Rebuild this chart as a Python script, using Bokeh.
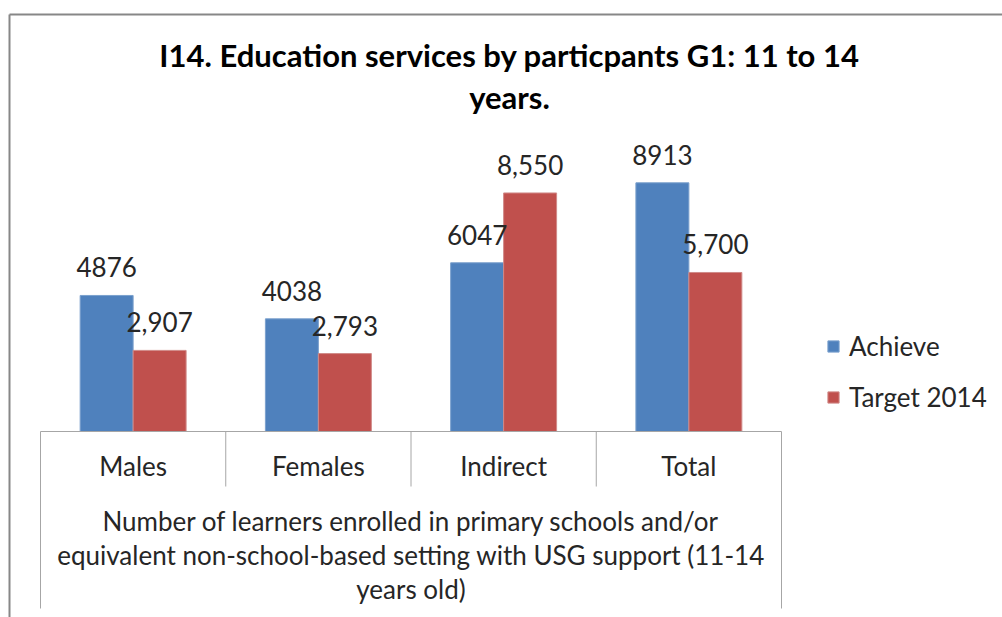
from bokeh.plotting import figure
from bokeh.models import Range1d, ColumnDataSource, Legend, LegendItem
from bokeh.transform import dodge
from bokeh.core.properties import value
from bokeh.embed import file_html
from bokeh.resources import INLINE

# ---------------- data ----------------
title_lines = ["I14. Education services by particpants G1: 11 to 14", "years."]
categories = ["Males", "Females", "Indirect", "Total"]
achieve = [4876, 4038, 6047, 8913]
target = [2907, 2793, 8550, 5700]
achieve_labels = ["4876", "4038", "6047", "8913"]
target_labels = ["2,907", "2,793", "8,550", "5,700"]
series_names = ["Achieve", "Target 2014"]
group_label_lines = [
    "Number of learners enrolled in primary schools and/or",
    "equivalent non-school-based setting with USG support (11-14",
    "years old)",
]
y_axis_max = 10000

# ---------------- layout ----------------
W, H = 1002, 617
PL, PR = 40, 781      # plot area left/right (px)
PT, PB = 152, 431     # plot area top/baseline (px)
n = len(categories)
unit = (PR - PL) / n
k = (PB - PT) / y_axis_max

BLUE = "#4F81BD"
RED = "#C0504D"
TXT = "#262626"
FONT = value("Lato")
GRID = "#A6A6A6"
FS = "26px"


def py(px):
    """pixel row -> value coordinate"""
    return (PB - px) / k


p = figure(width=W, height=H,
           x_range=Range1d(-PL / unit, (W - PL) / unit),
           y_range=Range1d(-(H - PB) / k, PB / k),
           output_backend="svg", toolbar_location=None, min_border=0,
           x_axis_location=None, y_axis_location=None)
p.extra_x_ranges = {"px": Range1d(0, W)}
p.extra_y_ranges = {"px": Range1d(H, 0)}
p.grid.visible = False
p.outline_line_color = None
p.background_fill_color = "white"
p.border_fill_color = "white"

src = ColumnDataSource(dict(
    x=[i + 0.5 for i in range(n)],
    cat=categories,
    achieve=achieve, target=target,
    alab=achieve_labels, tlab=target_labels,
))

bw = 0.286
off = bw / 2
r1 = p.vbar(x=dodge("x", -off), top="achieve", bottom=0, width=bw, source=src,
            fill_color=BLUE, line_color="#7BA0CD", line_width=1)
r2 = p.vbar(x=dodge("x", off), top="target", bottom=0, width=bw, source=src,
            fill_color=RED, line_color="#D08A88", line_width=1)

p.text(x=dodge("x", -off), y="achieve", text="alab", source=src,
       text_align="center", text_baseline="alphabetic", y_offset=-28,
       text_font=FONT, text_font_size=FS, text_color=TXT)
p.text(x=dodge("x", off), y="target", text="tlab", source=src,
       text_align="center", text_baseline="alphabetic", y_offset=-28,
       text_font=FONT, text_font_size=FS, text_color=TXT)

# category table
p.segment(x0=[0], y0=[0], x1=[n], y1=[0], line_color=GRID, line_width=1)
xs = list(range(n + 1))
p.segment(x0=xs, y0=[0] * len(xs), x1=xs,
          y1=[py(608) if (i == 0 or i == n) else py(486) for i in xs],
          line_color=GRID, line_width=1)

p.text(x="x", y=py(465), text="cat", source=src, text_align="center",
       text_baseline="alphabetic", text_font=FONT, text_font_size=FS,
       text_color=TXT)
p.text(x=[n / 2] * len(group_label_lines),
       y=[py(520 + 34 * i) for i in range(len(group_label_lines))],
       text=group_label_lines, text_align="center", text_baseline="alphabetic",
       text_font=FONT, text_font_size=FS, text_color=TXT)

# title
p.text(x=[509, 509], y=[54, 96], text=title_lines, x_range_name="px", y_range_name="px",
       text_align="center", text_baseline="alphabetic", text_font=FONT,
       text_font_size="31px", text_font_style="bold", text_color="black")

# chart border
p.segment(x0=[9, 9], y0=[14, 14], x1=[W, 9], y1=[14, H], x_range_name="px", y_range_name="px",
          line_color="#878787", line_width=2)

legend = Legend(items=[LegendItem(label=series_names[0], renderers=[r1]),
                       LegendItem(label=series_names[1], renderers=[r2])],
                location=(826, 204), orientation="vertical",
                glyph_width=14, glyph_height=14, label_standoff=9,
                label_text_font="Lato", label_text_font_size=FS, label_text_color=TXT,
                label_height=24, spacing=19, padding=0, margin=0,
                border_line_color=None, background_fill_alpha=0)
p.add_layout(legend)

open("out.html", "w").write(file_html(p, INLINE))
